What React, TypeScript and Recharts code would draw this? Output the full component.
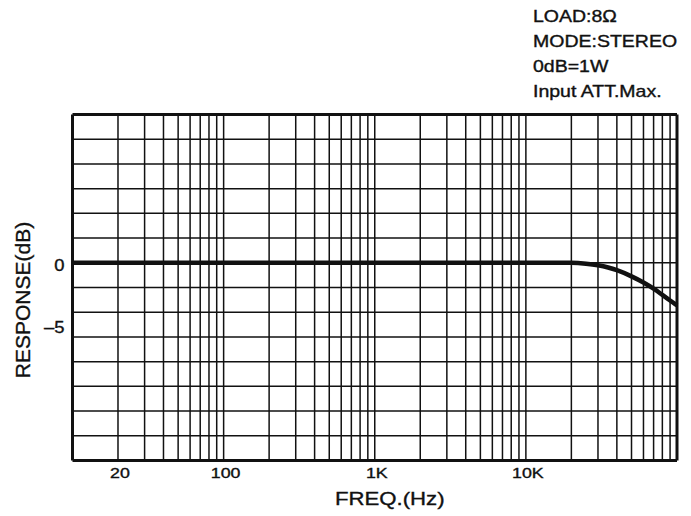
import React from "react";
import { LineChart, Line, XAxis, YAxis, ReferenceLine } from "recharts";

// Frequency response (dB) against frequency (Hz)
const freqHz = [10, 20, 100, 1000, 10000, 15000, 20000, 25000, 30000, 35000, 40000, 50000, 60000, 70000, 80000, 90000, 100000];
const responseDb = [0, 0, 0, 0, 0, 0, 0, -0.07, -0.2, -0.38, -0.6, -1.1, -1.6, -2.1, -2.6, -3.05, -3.45];

const xTicks = [20, 100, 1000, 10000];
const xTickLabels = ["20", "100", "1K", "10K"];
const yTicks = [0, -5];

const xDomain: [number, number] = [10, 100000];
const yDomain: [number, number] = [-16, 12];

// log grid: 2..9 of each decade plus the decade lines themselves
const gridDecades = [10, 100, 1000, 10000];
const gridSteps = [2, 3, 4, 5, 6, 7, 8, 9, 10];
const gridDb = [-14, -12, -10, -8, -6, -4, -2, 0, 2, 4, 6, 8, 10];

const notes = ["LOAD:8Ω", "MODE:STEREO", "0dB=1W", "Input ATT.Max."];

const data = freqHz.map((f, i) => ({ f, db: responseDb[i] }));
const gridFreqs = gridDecades
  .flatMap((d) => gridSteps.map((s) => d * s))
  .filter((f) => f < xDomain[1]);

const FONT = "'Liberation Sans', Arial, Helvetica, sans-serif";
const INK = "#111";
const TEXT_STROKE = 0.35;

const XTick = (props: any) => {
  const { x, y, payload } = props;
  const idx = xTicks.indexOf(payload.value);
  const label = idx >= 0 ? xTickLabels[idx] : String(payload.value);
  return (
    <g transform={`translate(${x + 2},${y})`}>
      <text
        transform="scale(1.27,1)"
        textAnchor="middle"
        dy="0.71em"
        fontSize={14}
        fontFamily={FONT}
        fill={INK}
        stroke={INK}
        strokeWidth={TEXT_STROKE}
      >
        {label}
      </text>
    </g>
  );
};

const YTick = (props: any) => {
  const { x, y, payload } = props;
  const v = payload.value as number;
  const label = v < 0 ? `–${Math.abs(v)}` : String(v);
  return (
    <g transform={`translate(${x},${y + 8})`}>
      <text
        transform="scale(1.15,1)"
        textAnchor="end"
        fontSize={16}
        fontFamily={FONT}
        fill={INK}
        stroke={INK}
        strokeWidth={TEXT_STROKE}
      >
        {label}
      </text>
    </g>
  );
};

function XTitleLabel(props: any) {
  const vb = props.viewBox;
  const cx = vb.x + vb.width / 2 + 15;
  return (
    <g transform={`translate(${cx},505)`}>
      <text
        transform="scale(1.2,1)"
        textAnchor="middle"
        fontSize={18.5}
        fontFamily={FONT}
        fill={INK}
        stroke={INK}
        strokeWidth={TEXT_STROKE}
      >
        FREQ.(Hz)
      </text>
    </g>
  );
}

function YTitleLabel(props: any) {
  const vb = props.viewBox;
  const cy = vb.y + vb.height / 2 + 12.5;
  return (
    <g transform={`translate(30,${cy}) rotate(-90)`}>
      <text
        transform="scale(1.05,1)"
        textAnchor="middle"
        fontSize={20}
        fontFamily={FONT}
        fill={INK}
        stroke={INK}
        strokeWidth={TEXT_STROKE}
      >
        RESPONSE(dB)
      </text>
    </g>
  );
}

export default function App() {
  return (
    <div style={{ position: "absolute", left: 0, top: 0, width: 691, height: 516, background: "#fff" }}>
      <LineChart
        width={691}
        height={516}
        data={data}
        margin={{ top: 114.5, right: 14, bottom: 25.5, left: 0 }}
      >
        <XAxis
          dataKey="f"
          type="number"
          scale="log"
          domain={xDomain}
          ticks={xTicks}
          axisLine={false}
          tickLine={false}
          tickSize={0}
          tickMargin={8}
          height={30}
          interval={0}
          tick={<XTick />}
          label={<XTitleLabel />}
        />
        <YAxis
          type="number"
          domain={yDomain}
          ticks={yTicks}
          axisLine={false}
          tickLine={false}
          width={72.5}
          interval={0}
          tick={<YTick />}
          label={<YTitleLabel />}
        />
        {gridFreqs.map((f) => (
          <ReferenceLine key={`gx${f}`} x={f} stroke={INK} strokeWidth={1.5} ifOverflow="visible" />
        ))}
        {gridDb.map((d) => (
          <ReferenceLine key={`gy${d}`} y={d} stroke={INK} strokeWidth={1.5} ifOverflow="visible" />
        ))}
        {/* plot frame */}
        <ReferenceLine x={xDomain[0]} stroke={INK} strokeWidth={3} ifOverflow="visible" />
        <ReferenceLine x={xDomain[1]} stroke={INK} strokeWidth={3} ifOverflow="visible" />
        <ReferenceLine y={yDomain[0]} stroke={INK} strokeWidth={3} ifOverflow="visible" />
        <ReferenceLine y={yDomain[1]} stroke={INK} strokeWidth={3} ifOverflow="visible" />
        <Line
          type="monotone"
          dataKey="db"
          stroke={INK}
          strokeWidth={4.5}
          dot={false}
          activeDot={false}
          isAnimationActive={false}
        />
      </LineChart>
      <svg
        width={691}
        height={120}
        style={{ position: "absolute", left: 0, top: 0, pointerEvents: "none" }}
      >
        {notes.map((t, i) => (
          <g key={t} transform={`translate(533,${21.7 + i * 25})`}>
            <text
              transform="scale(1.22,1)"
              fontSize={16}
              fontFamily={FONT}
              fill={INK}
              stroke={INK}
              strokeWidth={TEXT_STROKE}
            >
              {t}
            </text>
          </g>
        ))}
      </svg>
    </div>
  );
}
